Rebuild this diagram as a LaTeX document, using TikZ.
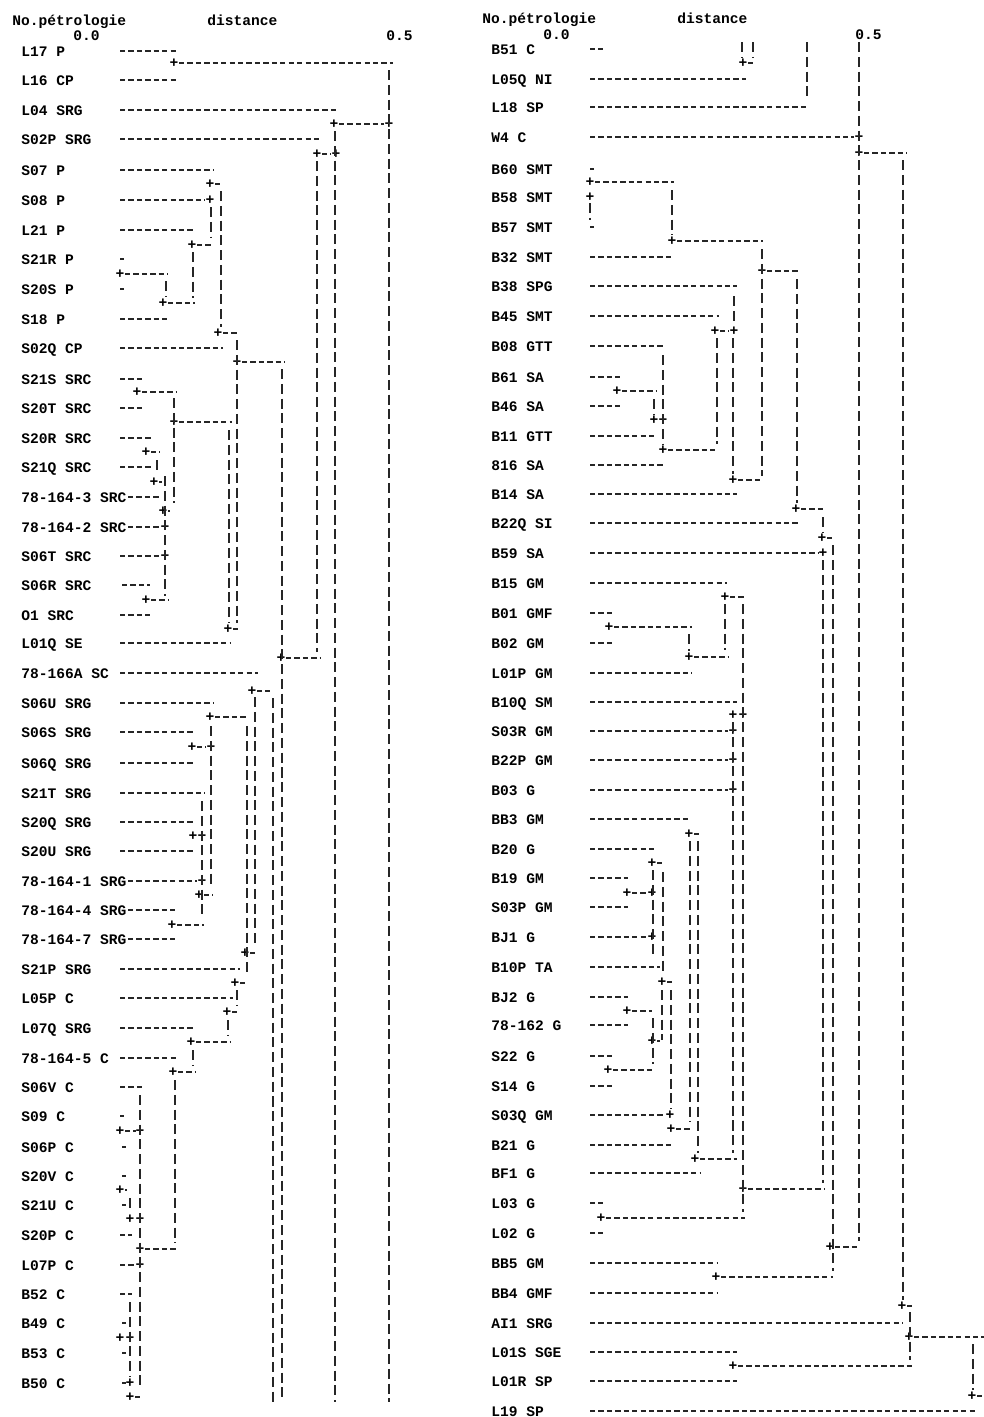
\documentclass[tikz,border=0pt]{standalone}
\usepackage{fontspec}
\setmonofont{Liberation Mono}

\tikzset{
	lab/.style={font=\ttfamily\bfseries\fontsize{8.3}{10}\selectfont, anchor=base west, inner sep=0pt},
	pl/.style={font=\ttfamily\bfseries\fontsize{8.3}{10}\selectfont, inner sep=0pt},
	hd/.style={black!85, line width=1pt, dash pattern=on 3pt off 1.8pt},
	vd/.style={black!85, line width=1pt, dash pattern=on 5.7pt off 2.7pt}
}

\begin{document}
\begin{tikzpicture}[x=0.02cm, y=-0.02cm]
	\useasboundingbox (0,0) rectangle (984,1417);
	% headings, left and right half
	\node[lab] (hpl) at (12,25) {No.pétrologie};
	\node[lab] (hdl) at (207,25) {distance};
	\node[lab] (hal) at (73,40) {0.0};
	\node[lab] (hbl) at (386,40) {0.5};
	\node[lab] (hpr) at (482,23) {No.pétrologie};
	\node[lab] (hdr) at (677,23) {distance};
	\node[lab] (har) at (543,39) {0.0};
	\node[lab] (hbr) at (855,39) {0.5};
	% left half: samples
	\foreach \t/\y/\a/\b [count=\i] in {L17 P/51/120/177, L16 CP/80/120/177, L04 SRG/110/120/338, S02P SRG/139/120/321, S07 P/170/120/213, S08 P/200/120/205, L21 P/230/120/195, S21R P/259/120/124, S20S P/289/120/124, S18 P/319/120/168, S02Q CP/348/120/223, S21S SRC/379/120/143, S20T SRC/408/120/143, S20R SRC/438/120/152, S21Q SRC/467/120/152, 78-164-3 SRC/497/128/160, 78-164-2 SRC/527/128/160, S06T SRC/556/120/160, S06R SRC/585/122/150, O1 SRC/615/120/150, L01Q SE/643/120/230, 78-166A SC/673/120/258, S06U SRG/703/120/213, S06S SRG/732/120/195, S06Q SRG/763/120/195, S21T SRG/793/120/205, S20Q SRG/822/120/195, S20U SRG/851/120/195, 78-164-1 SRG/881/128/197, 78-164-4 SRG/910/128/177, 78-164-7 SRG/939/128/177, S21P SRG/969/120/240, L05P C/998/120/233, L07Q SRG/1028/120/195, 78-164-5 C/1058/120/177, S06V C/1087/120/142, S09 C/1116/120/124, S06P C/1147/122/126, S20V C/1176/122/126, S21U C/1205/122/126, S20P C/1235/120/132, L07P C/1265/120/134, B52 C/1294/120/132, B49 C/1323/122/126, B53 C/1353/122/126, B50 C/1383/122/126}{
		\node[lab] (ls\i) at (21,\y+5.5) {\t};
		\draw[hd] (\a,\y) -- (\b,\y);
	}
	% left half: joins
	\foreach \y/\a/\b [count=\i] in {63/174/393, 124/334/384, 154/317/331, 184/210/222, 245/192/213, 274/120/168, 303/163/195, 333/218/239, 362/237/285, 392/137/177, 422/174/232, 452/146/160, 482/154/162, 511/163/170, 600/146/168, 629/228/240, 658/281/321, 691/252/270, 717/210/248, 747/192/206, 895/199/213, 925/172/204, 953/245/258, 983/235/245, 1012/227/240, 1042/191/231, 1072/173/195, 1131/120/136, 1190/120/127, 1249/140/177, 1397/130/142}{
		\node[pl] (lj\i) at (\a,\y) {+};
		\draw[hd] (\a+5,\y) -- (\b,\y);
	}
	\foreach \x/\y [count=\i] in {389/124, 336/154, 211/747, 193/836, 202/836, 210/200, 165/527, 165/556, 202/881, 140/1131, 130/1219, 140/1219, 120/1338, 130/1338, 140/1265, 130/1383}
		\node[pl] (lk\i) at (\x,\y) {+};
	\foreach \x/\a/\b in {389/70/1402, 335/131/1402, 317/161/652, 221/191/327, 211/207/238, 193/252/298, 166/281/296, 237/340/623, 282/369/1402, 174/398/503, 229/430/623, 157/460/474, 165/476/596, 273/698/1402, 255/697/947, 247/726/976, 211/726/888, 202/801/918, 237/990/1006, 228/1020/1036, 193/1050/1066, 175/1080/1243, 140/1095/1390, 130/1198/1212, 130/1302/1376}
		\draw[vd] (\x,\a) -- (\x,\b);
	% right half: samples
	\foreach \t/\y/\a/\b [count=\i] in {B51 C/49/590/603, L05Q NI/79/590/746, L18 SP/107/590/808, W4 C/137/590/854, B60 SMT/169/590/594, B58 SMT/197/590/590, B57 SMT/227/590/594, B32 SMT/257/590/674, B38 SPG/286/590/737, B45 SMT/316/590/719, B08 GTT/346/590/665, B61 SA/377/590/620, B46 SA/406/590/620, B11 GTT/436/590/657, 816 SA/465/590/665, B14 SA/494/590/737, B22Q SI/523/590/799, B59 SA/553/590/818, B15 GM/583/590/727, B01 GMF/613/590/612, B02 GM/643/590/612, L01P GM/673/590/692, B10Q SM/702/590/737, S03R GM/731/590/728, B22P GM/760/590/728, B03 G/790/590/728, BB3 GM/819/590/690, B20 G/849/590/655, B19 GM/878/590/628, S03P GM/907/590/628, BJ1 G/937/590/647, B10P TA/967/590/660, BJ2 G/997/590/628, 78-162 G/1025/590/628, S22 G/1056/590/612, S14 G/1086/590/612, S03Q GM/1115/590/665, B21 G/1145/590/674, BF1 G/1173/590/701, L03 G/1203/590/603, L02 G/1233/590/603, BB5 GM/1263/590/718, BB4 GMF/1293/590/718, AI1 SRG/1323/590/903, L01S SGE/1352/590/737, L01R SP/1381/590/737, L19 SP/1411/590/977}{
		\node[lab] (rs\i) at (491,\y+5.5) {\t};
		\draw[hd] (\a,\y) -- (\b,\y);
	}
	% right half: joins
	\foreach \y/\a/\b [count=\i] in {63/743/755, 153/859/907, 182/590/674, 241/672/763, 271/762/800, 331/715/729, 391/617/657, 450/663/718, 480/733/762, 509/796/825, 538/822/834, 597/725/745, 627/609/692, 657/689/728, 834/689/700, 863/652/663, 893/627/647, 982/662/672, 1011/627/652, 1041/652/660, 1070/608/655, 1129/671/690, 1159/695/737, 1189/743/825, 1218/601/745, 1247/830/860, 1277/716/833, 1306/902/913, 1337/909/984, 1366/733/914, 1396/972/984}{
		\node[pl] (rj\i) at (\a,\y) {+};
		\draw[hd] (\a+5,\y) -- (\b,\y);
	}
	\foreach \x/\y [count=\i] in {734/331, 654/420, 663/420, 733/715, 743/715, 859/137, 590/197, 733/731, 733/760, 733/790, 823/553, 652/893, 652/937, 670/1115}
		\node[pl] (rk\i) at (\x,\y) {+};
	\foreach \x/\a/\b in {742/42/58, 753/42/58, 807/42/101, 859/42/1241, 903/160/1300, 590/203/220, 672/190/235, 762/249/476, 797/279/503, 734/296/325, 717/338/444, 733/338/474, 663/355/444, 654/399/414, 823/517/532, 823/560/1183, 833/545/1271, 725/604/650, 743/604/1212, 689/634/651, 733/722/1153, 690/841/1122, 698/841/1153, 653/870/955, 663/872/972, 662/990/1040, 671/990/1109, 653/1018/1064, 910/1312/1360, 973/1344/1390}
		\draw[vd] (\x,\a) -- (\x,\b);
\end{tikzpicture}
\end{document}
